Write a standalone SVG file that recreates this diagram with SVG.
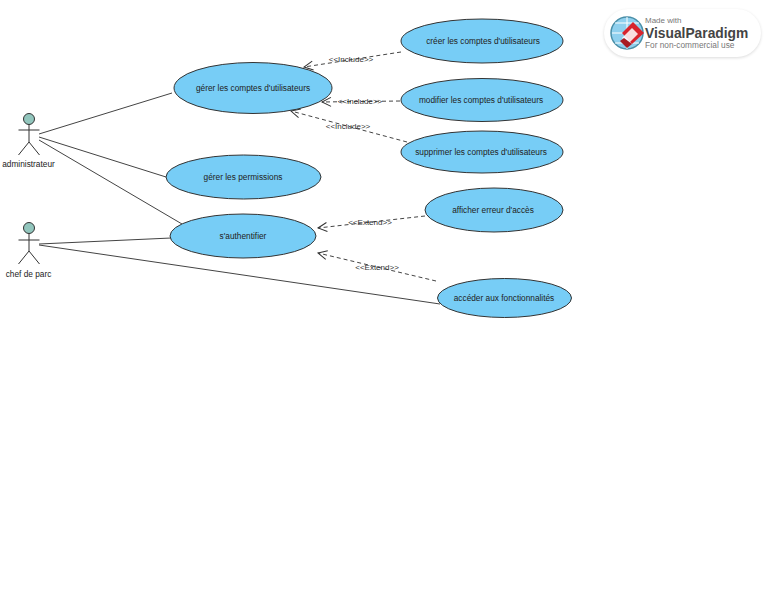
<svg xmlns="http://www.w3.org/2000/svg" width="768" height="594" viewBox="0 0 768 594">
<defs>
<filter id="soft" x="-10%" y="-20%" width="120%" height="140%"><feGaussianBlur stdDeviation="1.5"/></filter>
<marker id="open" viewBox="0 0 12 12" refX="10" refY="6" markerWidth="12" markerHeight="12" markerUnits="userSpaceOnUse" orient="auto"><path d="M1 1.500L10 6L1 10.500" fill="none" stroke="#333" stroke-width="1"/></marker>
</defs>
<style>
text{font-family:"Liberation Sans",Arial,sans-serif;font-size:8.3px;fill:#222;text-anchor:middle}
.uc ellipse{fill:#77cdf6;stroke:#333;stroke-width:1}
.assoc{fill:none;stroke:#444;stroke-width:1}
.dep{fill:none;stroke:#444;stroke-width:1;stroke-dasharray:4 3;marker-end:url(#open)}
.actor circle{fill:#92c6bd;stroke:#333;stroke-width:1}
.actor path{fill:none;stroke:#333;stroke-width:1}
.lab{font-size:8px;fill:#333}
</style>
<rect width="768" height="594" fill="#fff"/>
<g id="connectors">
<path class="assoc" d="M39 134L172 93"/>
<path class="assoc" d="M39 137L166 177"/>
<path class="assoc" d="M39 140L182 224"/>
<path class="assoc" d="M39 244L171 238"/>
<path class="assoc" d="M39 245L440 304"/>
<path class="dep" d="M401 52L304 67"/>
<path class="dep" d="M400 101L322 102"/>
<path class="dep" d="M407 142L291 111"/>
<path class="dep" d="M425 216L318 228"/>
<path class="dep" d="M436 281L318 253"/>
<text class="lab" x="351" y="62">&lt;&lt;Include&gt;&gt;</text>
<text class="lab" x="360" y="104">&lt;&lt;Include&gt;&gt;</text>
<text class="lab" x="348" y="129">&lt;&lt;Include&gt;&gt;</text>
<text class="lab" x="370" y="225">&lt;&lt;Extend&gt;&gt;</text>
<text class="lab" x="377" y="270">&lt;&lt;Extend&gt;&gt;</text>
</g>
<g id="actor-administrateur" class="actor">
<circle cx="29" cy="119" r="5.500"/>
<path d="M29 124.500V142M18.500 130H39.500M29 142L18.500 155M29 142L39.500 155"/>
<text x="28.500" y="167">administrateur</text>
</g>
<g id="actor-chef" class="actor">
<circle cx="29" cy="228" r="5.500"/>
<path d="M29 233.500V251M18.500 240H39.500M29 251L18.500 264M29 251L39.500 264"/>
<text x="28.500" y="276.500">chef de parc</text>
</g>
<g id="uc-gerer-comptes" class="uc"><ellipse cx="253" cy="88" rx="79" ry="25.500"/><text x="253" y="90.500">gérer les comptes d'utilisateurs</text></g>
<g id="uc-gerer-permissions" class="uc"><ellipse cx="243.500" cy="177" rx="77.500" ry="22"/><text x="243" y="180">gérer les permissions</text></g>
<g id="uc-authentifier" class="uc"><ellipse cx="243" cy="236" rx="73" ry="22"/><text x="243" y="239">s'authentifier</text></g>
<g id="uc-creer" class="uc"><ellipse cx="482" cy="41" rx="81" ry="22"/><text x="483" y="44">créer les comptes d'utilisateurs</text></g>
<g id="uc-modifier" class="uc"><ellipse cx="482" cy="100" rx="81" ry="21.500"/><text x="481" y="102.500">modifier les comptes d'utilisateurs</text></g>
<g id="uc-supprimer" class="uc"><ellipse cx="482" cy="152" rx="81" ry="21"/><text x="481" y="154.500">supprimer les comptes d'utilisateurs</text></g>
<g id="uc-erreur" class="uc"><ellipse cx="494" cy="210" rx="69" ry="22"/><text x="493" y="212.500">afficher erreur d'accès</text></g>
<g id="uc-acceder" class="uc"><ellipse cx="504.500" cy="298" rx="67" ry="19.500"/><text x="504" y="300.500">accéder aux fonctionnalités</text></g>
<g id="badge">
<rect x="604" y="10" width="157" height="48" rx="24" fill="#000" opacity=".14" filter="url(#soft)"/>
<rect x="604" y="9" width="157" height="48" rx="24" fill="#fff"/>
<circle cx="627" cy="33" r="16" fill="#8fd0ee" stroke="#4a8fa8" stroke-width="1.500"/>
<path d="M612 33H642M627 17V49M615 23H639M615 43H639" stroke="#fff" stroke-width="1" fill="none"/>
<path d="M633 22L644 33L632 44L622 33Z" fill="#d8242c"/>
<path d="M628 44L622 38L632 28L638 34Z" fill="#fff" opacity=".85"/>
<path d="M627 48L620 41L624 38L632 44Z" fill="#a81c22"/>
<text x="645" y="23" style="text-anchor:start;font-size:8px;fill:#777">Made with</text>
<text x="645" y="38" style="text-anchor:start;font-size:13.800px;font-weight:bold;fill:#444">VisualParadigm</text>
<text x="645" y="48" style="text-anchor:start;font-size:8.300px;fill:#777">For non-commercial use</text>
</g>
</svg>
